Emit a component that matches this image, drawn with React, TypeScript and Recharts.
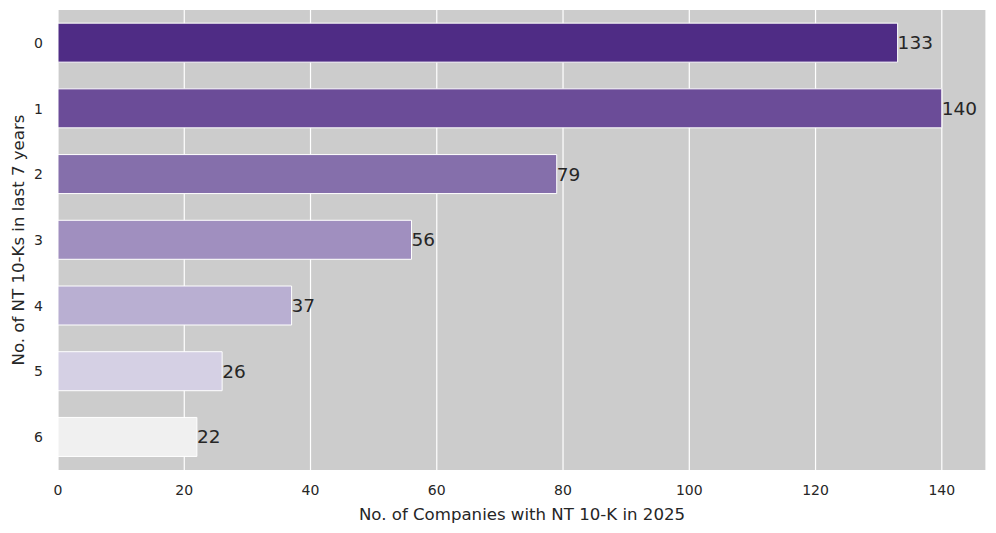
import React from 'react';
import { BarChart, Bar, XAxis, YAxis, CartesianGrid, Cell, LabelList, Label } from 'recharts';

const categories = ['0', '1', '2', '3', '4', '5', '6'];
const counts = [133, 140, 79, 56, 37, 26, 22];
const barColors = ['#4f2c85', '#6b4c98', '#856fab', '#a08fbf', '#b9afd2', '#d5d0e4', '#f0f0f0'];
const xTicks = [0, 20, 40, 60, 80, 100, 120, 140];

const data = categories.map((c, i) => ({ cat: c, value: counts[i] }));

const FONT = '"DejaVu Sans", sans-serif';
const TEXT = '#262626';

const YLabel = (props: any) => {
  const vb = props.viewBox || { x: 0, y: 0, width: 58, height: 460 };
  const cx = vb.x + 24;
  const cy = vb.y + vb.height / 2;
  return (
    <text
      x={cx}
      y={cy}
      transform={`rotate(-90 ${cx} ${cy})`}
      textAnchor="middle"
      fill={TEXT}
      fontSize={16.6}
      fontFamily={FONT}
    >
      No. of NT 10-Ks in last 7 years
    </text>
  );
};

export default function App() {
  return (
    <div style={{ position: 'absolute', left: 0, top: 0, width: 996, height: 533, background: '#fff' }}>
      <BarChart
        width={996}
        height={533}
        data={data}
        layout="vertical"
        margin={{ top: 10, right: 10, left: 0, bottom: 0 }}
        barCategoryGap="20%"
      >
        <CartesianGrid horizontal={false} stroke="#ffffff" strokeWidth={1.2} fill="#cccccc" fillOpacity={1} />
        <XAxis
          type="number"
          domain={[0, 147]}
          ticks={xTicks}
          height={63}
          axisLine={false}
          tickLine={false}
          tickSize={0}
          tickMargin={15}
          tick={{ fill: TEXT, fontSize: 14, fontFamily: FONT }}
        >
          <Label
            value="No. of Companies with NT 10-K in 2025"
            position="insideBottom"
            offset={13}
            fill={TEXT}
            fontSize={16.6}
            fontFamily={FONT}
          />
        </XAxis>
        <YAxis
          type="category"
          dataKey="cat"
          width={58}
          axisLine={false}
          tickLine={false}
          tickSize={0}
          tickMargin={15}
          tick={{ fill: TEXT, fontSize: 14, fontFamily: FONT }}
        >
          <Label content={YLabel} />
        </YAxis>
        <Bar dataKey="value" stroke="#ffffff" strokeWidth={1} isAnimationActive={false}>
          {data.map((d, i) => (
            <Cell key={d.cat} fill={barColors[i]} />
          ))}
          <LabelList
            dataKey="value"
            position="right"
            offset={0}
            fill={TEXT}
            fontSize={18.5}
            fontFamily={FONT}
          />
        </Bar>
      </BarChart>
    </div>
  );
}
